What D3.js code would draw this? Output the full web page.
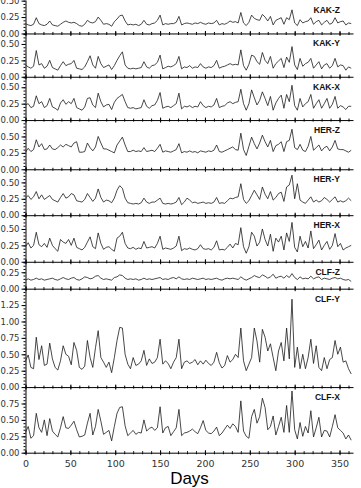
<!DOCTYPE html>
<html>
<head>
<meta charset="utf-8">
<script src="https://cdn.jsdelivr.net/npm/d3@7"></script>
<style>
  body { margin: 0; background: #fff; }
  text { font-family: "Liberation Sans", Arial, sans-serif; }
</style>
</head>
<body>
<div class="chart"></div>
<script>
const width = 361;
const height = 488;

// sampled every 3 days
const days = d3.range(0, 364, 3);

const kakZ = [0.15,0.13,0.12,0.14,0.24,0.15,0.13,0.12,0.14,0.19,
  0.13,0.12,0.11,0.14,0.17,0.19,0.17,0.16,0.17,0.15,
  0.12,0.11,0.14,0.20,0.17,0.16,0.18,0.25,0.20,0.14,
  0.15,0.14,0.11,0.18,0.22,0.27,0.28,0.19,0.13,0.14,
  0.13,0.14,0.12,0.14,0.20,0.14,0.13,0.15,0.16,0.20,
  0.28,0.13,0.15,0.14,0.15,0.15,0.17,0.26,0.13,0.15,
  0.16,0.15,0.14,0.16,0.15,0.17,0.15,0.14,0.16,0.15,
  0.16,0.20,0.13,0.15,0.14,0.16,0.19,0.17,0.18,0.16,
  0.32,0.16,0.12,0.17,0.28,0.23,0.21,0.20,0.29,0.25,
  0.19,0.26,0.13,0.20,0.22,0.24,0.14,0.24,0.21,0.36,
  0.16,0.12,0.21,0.16,0.18,0.19,0.24,0.14,0.18,0.20,
  0.13,0.17,0.20,0.14,0.16,0.24,0.16,0.18,0.19,0.13,
  0.16,0.15];

const kakY = [0.18,0.15,0.13,0.16,0.40,0.18,0.20,0.13,0.16,0.25,
  0.14,0.12,0.10,0.17,0.23,0.17,0.19,0.20,0.25,0.13,
  0.12,0.11,0.15,0.23,0.32,0.18,0.13,0.31,0.20,0.14,
  0.16,0.18,0.11,0.17,0.25,0.32,0.38,0.18,0.13,0.12,
  0.13,0.12,0.13,0.14,0.23,0.15,0.13,0.17,0.18,0.22,
  0.33,0.12,0.14,0.16,0.15,0.17,0.20,0.31,0.12,0.15,
  0.14,0.17,0.13,0.15,0.14,0.20,0.15,0.13,0.15,0.14,
  0.17,0.25,0.13,0.15,0.16,0.18,0.20,0.18,0.19,0.18,
  0.41,0.17,0.10,0.19,0.33,0.31,0.23,0.19,0.37,0.25,
  0.20,0.31,0.13,0.20,0.24,0.28,0.14,0.30,0.22,0.46,
  0.18,0.11,0.28,0.16,0.20,0.22,0.28,0.13,0.18,0.23,
  0.12,0.18,0.20,0.13,0.17,0.28,0.15,0.18,0.17,0.10,
  0.15,0.13];

const kakX = [0.23,0.25,0.19,0.21,0.37,0.25,0.28,0.19,0.22,0.33,
  0.20,0.18,0.15,0.26,0.31,0.24,0.28,0.25,0.33,0.19,
  0.17,0.15,0.20,0.33,0.34,0.23,0.19,0.41,0.28,0.20,
  0.23,0.24,0.16,0.27,0.33,0.36,0.39,0.28,0.19,0.18,
  0.19,0.17,0.18,0.19,0.31,0.21,0.18,0.22,0.23,0.30,
  0.42,0.18,0.20,0.21,0.19,0.22,0.25,0.41,0.17,0.21,
  0.20,0.22,0.19,0.21,0.20,0.28,0.22,0.19,0.21,0.20,
  0.23,0.33,0.19,0.21,0.22,0.26,0.28,0.25,0.27,0.28,
  0.47,0.25,0.15,0.25,0.46,0.34,0.23,0.30,0.43,0.33,
  0.22,0.36,0.15,0.26,0.33,0.38,0.18,0.39,0.28,0.53,
  0.22,0.15,0.33,0.20,0.25,0.28,0.39,0.18,0.25,0.31,
  0.18,0.25,0.33,0.18,0.24,0.36,0.18,0.22,0.20,0.16,
  0.21,0.21];

const herZ = [0.26,0.32,0.27,0.30,0.45,0.34,0.39,0.30,0.31,0.37,
  0.31,0.30,0.33,0.37,0.34,0.38,0.36,0.34,0.40,0.42,
  0.26,0.26,0.27,0.40,0.33,0.28,0.34,0.50,0.40,0.31,
  0.31,0.29,0.27,0.25,0.37,0.43,0.49,0.37,0.27,0.27,
  0.29,0.27,0.28,0.27,0.33,0.27,0.28,0.29,0.27,0.32,
  0.38,0.26,0.28,0.27,0.26,0.28,0.30,0.39,0.25,0.27,
  0.26,0.28,0.26,0.27,0.25,0.28,0.27,0.26,0.28,0.27,
  0.29,0.37,0.27,0.26,0.28,0.30,0.32,0.34,0.30,0.29,
  0.55,0.30,0.21,0.35,0.49,0.39,0.31,0.40,0.52,0.42,
  0.34,0.44,0.27,0.36,0.38,0.42,0.27,0.42,0.44,0.61,
  0.33,0.30,0.38,0.29,0.27,0.35,0.50,0.29,0.33,0.37,
  0.28,0.33,0.35,0.28,0.34,0.44,0.31,0.30,0.30,0.28,
  0.26,0.29];

const herY = [0.26,0.30,0.24,0.28,0.36,0.25,0.31,0.24,0.27,0.30,
  0.24,0.22,0.20,0.27,0.33,0.26,0.28,0.33,0.31,0.22,
  0.21,0.20,0.24,0.33,0.27,0.21,0.26,0.40,0.27,0.20,
  0.23,0.22,0.19,0.26,0.38,0.45,0.41,0.26,0.19,0.18,
  0.17,0.18,0.17,0.19,0.26,0.20,0.18,0.20,0.20,0.23,
  0.26,0.18,0.17,0.18,0.17,0.18,0.20,0.27,0.16,0.20,
  0.26,0.23,0.19,0.20,0.18,0.19,0.20,0.18,0.19,0.18,
  0.20,0.27,0.18,0.19,0.18,0.22,0.26,0.25,0.27,0.28,
  0.48,0.24,0.18,0.22,0.30,0.38,0.31,0.24,0.43,0.32,
  0.25,0.36,0.23,0.27,0.33,0.35,0.21,0.43,0.46,0.61,
  0.25,0.48,0.23,0.20,0.18,0.23,0.28,0.20,0.23,0.20,
  0.22,0.27,0.24,0.20,0.24,0.28,0.20,0.22,0.20,0.22,
  0.26,0.22];

const herX = [0.23,0.29,0.21,0.25,0.45,0.26,0.23,0.28,0.22,0.36,
  0.25,0.20,0.16,0.34,0.30,0.28,0.34,0.25,0.36,0.22,
  0.20,0.18,0.22,0.30,0.38,0.23,0.20,0.44,0.28,0.19,
  0.22,0.23,0.19,0.16,0.36,0.39,0.45,0.28,0.21,0.20,
  0.22,0.19,0.21,0.20,0.31,0.21,0.22,0.23,0.21,0.28,
  0.39,0.19,0.21,0.20,0.19,0.21,0.24,0.39,0.17,0.20,
  0.19,0.21,0.19,0.18,0.20,0.26,0.20,0.19,0.20,0.18,
  0.22,0.32,0.18,0.19,0.18,0.22,0.27,0.21,0.28,0.26,
  0.52,0.23,0.13,0.23,0.45,0.39,0.24,0.30,0.50,0.34,
  0.24,0.42,0.16,0.36,0.30,0.39,0.18,0.44,0.31,0.60,
  0.22,0.15,0.39,0.23,0.31,0.21,0.47,0.20,0.26,0.33,
  0.18,0.25,0.31,0.19,0.25,0.43,0.23,0.28,0.18,0.21,
  0.23,0.25];

const clfZ = [0.13,0.15,0.13,0.14,0.16,0.14,0.15,0.13,0.14,0.15,
  0.16,0.14,0.13,0.15,0.17,0.15,0.14,0.16,0.17,0.14,
  0.13,0.15,0.18,0.17,0.15,0.16,0.19,0.20,0.16,0.14,
  0.15,0.14,0.13,0.17,0.18,0.21,0.20,0.16,0.14,0.15,
  0.14,0.15,0.13,0.14,0.16,0.14,0.15,0.14,0.15,0.16,
  0.17,0.14,0.15,0.14,0.16,0.17,0.15,0.18,0.15,0.14,
  0.15,0.14,0.16,0.15,0.14,0.15,0.16,0.14,0.15,0.14,
  0.15,0.16,0.14,0.13,0.15,0.16,0.15,0.16,0.15,0.14,
  0.18,0.15,0.13,0.15,0.17,0.20,0.18,0.17,0.21,0.19,
  0.16,0.18,0.22,0.16,0.18,0.19,0.16,0.20,0.17,0.23,
  0.17,0.14,0.18,0.15,0.16,0.15,0.19,0.15,0.17,0.18,
  0.14,0.16,0.15,0.14,0.16,0.17,0.15,0.16,0.14,0.13,
  0.14,0.11];

const clfY = [0.40,0.49,0.30,0.28,0.76,0.42,0.63,0.33,0.35,0.67,
  0.43,0.30,0.26,0.40,0.63,0.50,0.47,0.34,0.68,0.56,
  0.30,0.27,0.32,0.71,0.45,0.30,0.60,0.86,0.45,0.38,
  0.30,0.38,0.22,0.45,0.71,0.91,0.90,0.50,0.35,0.28,
  0.45,0.33,0.35,0.40,0.56,0.33,0.43,0.36,0.38,0.45,
  0.73,0.35,0.40,0.36,0.28,0.38,0.45,0.73,0.28,0.38,
  0.40,0.36,0.38,0.42,0.34,0.40,0.35,0.41,0.36,0.33,
  0.38,0.53,0.37,0.29,0.33,0.48,0.38,0.42,0.50,0.45,
  0.90,0.40,0.25,0.35,0.45,0.90,0.70,0.38,0.88,0.76,
  0.55,0.66,0.45,0.25,0.55,0.68,0.40,0.90,0.43,1.34,
  0.30,0.61,0.28,0.50,0.28,0.45,0.73,0.36,0.63,0.30,
  0.25,0.45,0.28,0.42,0.45,0.71,0.50,0.61,0.38,0.40,
  0.28,0.20];

const clfX = [0.31,0.40,0.22,0.26,0.60,0.38,0.31,0.50,0.26,0.52,
  0.33,0.28,0.24,0.38,0.55,0.38,0.37,0.42,0.48,0.35,
  0.24,0.25,0.27,0.45,0.60,0.27,0.40,0.66,0.48,0.28,
  0.31,0.34,0.18,0.40,0.60,0.69,0.70,0.41,0.26,0.30,
  0.34,0.28,0.31,0.30,0.50,0.33,0.37,0.39,0.34,0.38,
  0.70,0.30,0.38,0.40,0.26,0.32,0.38,0.66,0.26,0.30,
  0.31,0.33,0.36,0.32,0.29,0.38,0.49,0.34,0.30,0.29,
  0.33,0.39,0.26,0.30,0.36,0.42,0.37,0.44,0.40,0.31,
  0.79,0.33,0.25,0.22,0.55,0.66,0.45,0.55,0.83,0.69,
  0.35,0.40,0.56,0.27,0.40,0.54,0.31,0.72,0.31,0.94,
  0.35,0.21,0.46,0.25,0.40,0.30,0.64,0.24,0.38,0.54,
  0.24,0.34,0.33,0.24,0.40,0.58,0.38,0.34,0.30,0.21,
  0.27,0.19];

const panelNames = ["KAK-Z", "KAK-Y", "KAK-X", "HER-Z", "HER-Y", "HER-X", "CLF-Z", "CLF-Y", "CLF-X"];
const panelSeries = [kakZ, kakY, kakX, herZ, herY, herX, clfZ, clfY, clfX];
const panelMax = [0.51, 0.66, 0.66, 0.75, 0.70, 0.71, 0.41, 1.5, 1.0];
const xTickLabels = [0, 50, 100, 150, 200, 250, 300, 350];

const plotBottom = 452.7;
const unit = plotBottom / d3.sum(panelMax);

const svg = d3.select(".chart").append("svg")
    .attr("width", width).attr("height", height);

const x = d3.scaleLinear()
    .domain([0, 365])
    .range([25.5, 353]);

const line = d3.line()
    .x((d, i) => x(days[i]))
    .y(d => d);

let panelTop = 0;
panelNames.forEach((name, i) => {
  const bottom = panelTop + panelMax[i] * unit;
  const y = d3.scaleLinear().domain([0, panelMax[i]]).range([bottom, panelTop]);
  const g = svg.append("g");

  // minor y ticks
  g.append("g")
      .attr("transform", "translate(25.5,0)")
      .call(d3.axisLeft(y).tickValues(d3.range(0, panelMax[i] - 0.005, 0.05))
        .tickSize(2).tickSizeOuter(0).tickFormat(""))
      .call(a => a.select(".domain").attr("stroke", "#000"));

  // major y ticks with labels
  g.append("g")
      .attr("transform", "translate(25.5,0)")
      .call(d3.axisLeft(y).tickValues(d3.range(0, panelMax[i] - 0.005, 0.25))
        .tickSize(4).tickSizeOuter(0).tickPadding(2).tickFormat(d3.format(".2f")))
      .call(a => a.select(".domain").remove())
      .call(a => a.selectAll("text").attr("font-size", 8.5).attr("fill", "#333")
        .style("font-family", "'DejaVu Sans', sans-serif"));

  // x axis on zero line, ticks crossing both ways
  const zero = y(0);
  const xMinor = d3.range(0, 361, 10);
  const xMajor = d3.range(0, 351, 50);
  g.append("g")
      .attr("transform", `translate(0,${zero})`)
      .call(d3.axisBottom(x).tickValues(xMinor).tickSize(1.5).tickSizeOuter(0).tickFormat(""));
  g.append("g")
      .attr("transform", `translate(0,${zero})`)
      .call(d3.axisTop(x).tickValues(xMinor).tickSize(1.5).tickSizeOuter(0).tickFormat(""))
      .call(a => a.select(".domain").remove());
  g.append("g")
      .attr("transform", `translate(0,${zero})`)
      .call(d3.axisTop(x).tickValues(xMajor).tickSize(2.5).tickSizeOuter(0).tickFormat(""))
      .call(a => a.select(".domain").remove());

  if (i === panelNames.length - 1) {
    g.append("g")
        .attr("transform", `translate(0,${zero})`)
        .call(d3.axisBottom(x).tickValues(xTickLabels).tickSize(2.5).tickSizeOuter(0).tickPadding(5))
        .call(a => a.select(".domain").remove())
        .call(a => a.selectAll("text").attr("font-size", 9.5).attr("fill", "#333")
          .style("font-family", "'DejaVu Sans', sans-serif"));
  } else {
    g.append("g")
        .attr("transform", `translate(0,${zero})`)
        .call(d3.axisBottom(x).tickValues(xMajor).tickSize(2.5).tickSizeOuter(0).tickFormat(""))
        .call(a => a.select(".domain").remove());
  }

  g.append("path")
      .datum(panelSeries[i].map(v => y(v)))
      .attr("fill", "none")
      .attr("stroke", "#1a1a1a")
      .attr("stroke-width", 0.8)
      .attr("stroke-linejoin", "round")
      .attr("d", line);

  g.append("text")
      .attr("x", 340)
      .attr("y", panelTop + 13)
      .attr("text-anchor", "end")
      .attr("font-size", 8.5)
      .attr("font-weight", "bold")
      .attr("fill", "#111")
      .text(name);

  panelTop = bottom;
});

svg.append("text")
    .attr("x", 189.5)
    .attr("y", 484)
    .attr("text-anchor", "middle")
    .attr("font-size", 17)
    .attr("fill", "#000")
    .text("Days");
</script>
</body>
</html>
